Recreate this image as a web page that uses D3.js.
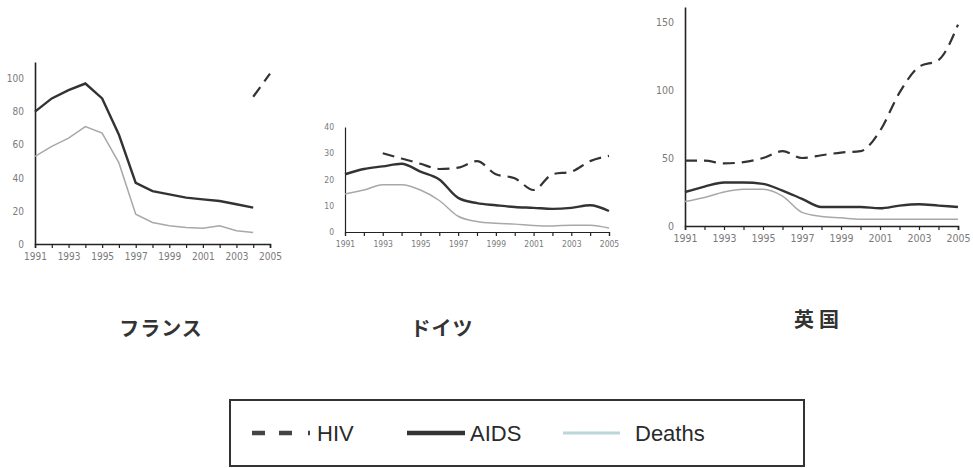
<!DOCTYPE html>
<html>
<head>
<meta charset="utf-8">
<script src="https://cdn.jsdelivr.net/npm/d3@7"></script>
<style>
  body { margin: 0; background: #fff; }
  .tick text { font-family: "Liberation Sans Narrow", "DejaVu Sans Condensed", "Liberation Sans", sans-serif; fill: #7a7a7a; }
</style>
</head>
<body>
<div id="chart"></div>
<script>
var years = [1991, 1992, 1993, 1994, 1995, 1996, 1997, 1998, 1999, 2000, 2001, 2002, 2003, 2004, 2005];
var yearLabels = [1991, 1993, 1995, 1997, 1999, 2001, 2003, 2005];

var franceHIV    = [null, null, null, null, null, null, null, null, null, null, null, null, null, 89, 103];
var franceAIDS   = [80, 88, 93, 97, 88, 66, 37, 32, 30, 28, 27, 26, 24, 22, null];
var franceDeaths = [53, 59, 64, 71, 67, 49, 18, 13, 11, 10, 9.5, 11, 8, 7, null];

var germanyHIV    = [null, null, 30, 28, 26, 24, 24.5, 27, 22, 20.5, 16, 22, 23, 27, 29];
var germanyAIDS   = [22, 24, 25, 26, 23, 20, 13, 11, 10.2, 9.5, 9.2, 8.8, 9.2, 10.2, 8];
var germanyDeaths = [14.5, 16, 18, 18, 16, 12, 6, 4, 3.3, 3, 2.5, 2.3, 2.6, 2.6, 1.5];

var ukHIV    = [48, 48, 46, 47, 50, 55, 50, 52, 54, 55, 70, 98, 117, 122, 148];
var ukAIDS   = [25, 29, 32, 32, 31, 26, 20, 14, 14, 14, 13, 15, 16, 15, 14];
var ukDeaths = [18, 21, 25, 27, 27, 22, 10, 7, 6, 5, 5, 5, 5, 5, 5];

var countries = ["フランス", "ドイツ", "英国"];
var seriesNames = ["HIV", "AIDS", "Deaths"];

var svg = d3.select("#chart").append("svg")
  .attr("width", 973)
  .attr("height", 468);

var panels = [
  { name: countries[0], hiv: franceHIV, aids: franceAIDS, deaths: franceDeaths,
    x0: 35, x1: 270, yTop: 62, yBottom: 244, yMax: 110, yTicks: [0, 20, 40, 60, 80, 100],
    font: 10, axisW: 1.6, curve: d3.curveLinear, titleX: 161, titleY: 336, spacing: 1 },
  { name: countries[1], hiv: germanyHIV, aids: germanyAIDS, deaths: germanyDeaths,
    x0: 345, x1: 609, yTop: 127, yBottom: 232, yMax: 40, yTicks: [0, 10, 20, 30, 40],
    font: 8.5, axisW: 1.2, curve: d3.curveMonotoneX, titleX: 442, titleY: 336, spacing: 1 },
  { name: countries[2], hiv: ukHIV, aids: ukAIDS, deaths: ukDeaths,
    x0: 685, x1: 958, yTop: 7, yBottom: 226, yMax: 161, yTicks: [0, 50, 100, 150],
    font: 10.5, axisW: 1.6, curve: d3.curveMonotoneX, titleX: 819, titleY: 327, spacing: 5 }
];

panels.forEach(function(p) {
  var x = d3.scaleLinear().domain([1991, 2005]).range([p.x0, p.x1]);
  var y = d3.scaleLinear().domain([0, p.yMax]).range([p.yBottom, p.yTop]);

  var g = svg.append("g");

  var xAxis = d3.axisBottom(x)
    .tickValues(years)
    .tickSize(4)
    .tickPadding(5)
    .tickFormat(function(d) { return yearLabels.indexOf(d) >= 0 ? d : ""; });

  var gx = g.append("g")
    .attr("transform", `translate(0, ${p.yBottom})`)
    .call(xAxis);
  gx.select(".domain").attr("stroke", "#222").attr("stroke-width", p.axisW);
  gx.selectAll(".tick line").attr("stroke", "#222").attr("stroke-width", 1.2);
  gx.selectAll(".tick text").style("font-size", p.font + "px");

  var yAxis = d3.axisLeft(y)
    .tickValues(p.yTicks)
    .tickSize(0)
    .tickPadding(11);

  var gy = g.append("g")
    .attr("transform", `translate(${p.x0}, 0)`)
    .call(yAxis);
  gy.select(".domain").attr("stroke", "#222").attr("stroke-width", p.axisW);
  gy.selectAll(".tick text").style("font-size", p.font + "px");

  var line = d3.line()
    .defined(function(d) { return d.v != null; })
    .x(function(d) { return x(d.year); })
    .y(function(d) { return y(d.v); })
    .curve(p.curve);

  function rows(arr) {
    return years.map(function(yr, i) { return { year: yr, v: arr[i] }; });
  }

  g.append("path")
    .datum(rows(p.deaths))
    .attr("d", line)
    .attr("fill", "none")
    .attr("stroke", "#a8a8a8")
    .attr("stroke-width", 1.5);

  g.append("path")
    .datum(rows(p.aids))
    .attr("d", line)
    .attr("fill", "none")
    .attr("stroke", "#333")
    .attr("stroke-width", 2.4);

  g.append("path")
    .datum(rows(p.hiv))
    .attr("d", line)
    .attr("fill", "none")
    .attr("stroke", "#333")
    .attr("stroke-width", 2.2)
    .attr("stroke-dasharray", "12,7");

  svg.append("text")
    .attr("x", p.titleX)
    .attr("y", p.titleY)
    .attr("text-anchor", "middle")
    .style("font-family", "'Noto Sans CJK JP', sans-serif")
    .style("font-size", "20px")
    .style("font-weight", "bold")
    .style("letter-spacing", p.spacing + "px")
    .style("fill", "#333")
    .text(p.name);
});

// legend
var legend = svg.append("g");
legend.append("rect")
  .attr("x", 230)
  .attr("y", 400)
  .attr("width", 574)
  .attr("height", 66)
  .attr("fill", "none")
  .attr("stroke", "#333")
  .attr("stroke-width", 2);

var ly = 433;
legend.append("line")
  .attr("x1", 252).attr("x2", 312)
  .attr("y1", ly).attr("y2", ly)
  .attr("stroke", "#444")
  .attr("stroke-width", 4.5)
  .attr("stroke-dasharray", "13,14,13,16,2,100");

legend.append("line")
  .attr("x1", 407).attr("x2", 465)
  .attr("y1", ly).attr("y2", ly)
  .attr("stroke", "#333")
  .attr("stroke-width", 4.5);

legend.append("line")
  .attr("x1", 563).attr("x2", 620)
  .attr("y1", ly).attr("y2", ly)
  .attr("stroke", "#bcd6dc")
  .attr("stroke-width", 3);

var legendX = [317, 470, 635];
seriesNames.forEach(function(s, i) {
  legend.append("text")
    .attr("x", legendX[i])
    .attr("y", ly + 8)
    .style("font-family", "'Liberation Sans', Arial, sans-serif")
    .style("font-size", "22px")
    .style("fill", "#2a2a2a")
    .text(s);
});
</script>
</body>
</html>
